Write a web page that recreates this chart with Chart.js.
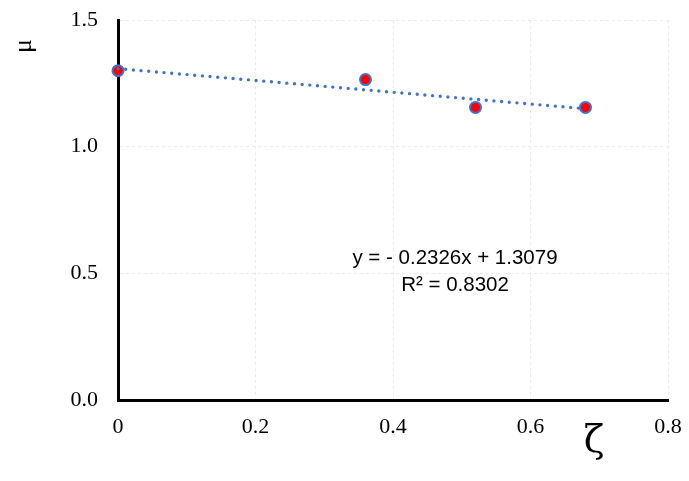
<!DOCTYPE html>
<html>
<head>
<meta charset="utf-8">
<script src="https://cdn.jsdelivr.net/npm/chart.js@4/dist/chart.umd.min.js"></script>
<style>
html,body{margin:0;padding:0;background:#fff;}
#wrap{width:689px;height:481px;position:relative;}
</style>
</head>
<body>
<div id="wrap"><canvas id="c" width="689" height="481"></canvas></div>
<script>
// Data
const zetaValues = [0, 0.36, 0.52, 0.68];
const muValues = [1.30, 1.265, 1.155, 1.155];
const trendSlope = -0.2326;
const trendIntercept = 1.3079;
const trendRange = [0, 0.68];
const xTicks = [0, 0.2, 0.4, 0.6, 0.8];
const yTicks = [0.0, 0.5, 1.0, 1.5];
const equationLines = ['y = - 0.2326x + 1.3079', 'R² = 0.8302'];
const xTitle = 'ζ';
const yTitle = 'μ';

const points = zetaValues.map((x, i) => ({x: x, y: muValues[i]}));
const trend = trendRange.map(x => ({x: x, y: trendSlope * x + trendIntercept}));

const annot = {
  id: 'annot',
  afterDraw(chart) {
    const ctx = chart.ctx;
    ctx.save();
    ctx.fillStyle = '#000';
    ctx.textAlign = 'center';
    ctx.textBaseline = 'middle';
    ctx.font = '20.5px "Liberation Sans", Arial, sans-serif';
    ctx.fillText(equationLines[0], 455, 258);
    ctx.fillText(equationLines[1], 455, 285);
    // x title
    ctx.font = '38px "DejaVu Serif", "Liberation Serif", serif';
    ctx.fillText(xTitle, 594, 442);
    // y title rotated
    ctx.translate(24, 46);
    ctx.rotate(-Math.PI / 2);
    ctx.font = '26px "Liberation Serif", "Times New Roman", serif';
    ctx.fillText(yTitle, 0, 0);
    ctx.restore();
  }
};

new Chart(document.getElementById('c'), {
  type: 'scatter',
  data: {
    datasets: [
      {
        type: 'line',
        label: 'trend',
        data: trend,
        borderColor: '#4472C4',
        borderWidth: 3.4,
        borderDash: [0, 7.7],
        borderCapStyle: 'round',
        pointRadius: 0,
        fill: false,
        clip: false,
        order: 0
      },
      {
        label: 'mu',
        data: points,
        backgroundColor: '#FF0000',
        borderColor: '#4472C4',
        borderWidth: 2,
        pointRadius: 5.5,
        clip: false,
        order: 1
      }
    ]
  },
  options: {
    responsive: false,
    animation: false,
    devicePixelRatio: 1,
    layout: {padding: {top: 20, right: 21, left: 0, bottom: 0}},
    plugins: {legend: {display: false}, tooltip: {enabled: false}},
    scales: {
      x: {
        type: 'linear',
        min: 0, max: 0.8,
        afterBuildTicks(s) { s.ticks = xTicks.map(v => ({value: v})); },
        afterFit(s) { s.height = 81; s.paddingLeft = 0; s.paddingRight = 0; },
        ticks: {
          color: '#000',
          padding: 14,
          font: {family: '"Liberation Serif", "Times New Roman", serif', size: 22},
          callback: v => (v === 0 ? '0' : String(v))
        },
        grid: {color: '#ebebeb', lineWidth: 1, drawTicks: false, tickLength: 0},
        border: {color: '#000', width: 3, dash: [3, 3]}
      },
      y: {
        type: 'linear',
        min: 0, max: 1.5,
        afterBuildTicks(s) { s.ticks = yTicks.map(v => ({value: v})); },
        afterFit(s) { s.width = 118; s.paddingTop = 0; s.paddingBottom = 0; },
        ticks: {
          color: '#000',
          padding: 20,
          font: {family: '"Liberation Serif", "Times New Roman", serif', size: 22},
          callback: v => v.toFixed(1)
        },
        grid: {color: '#ebebeb', lineWidth: 1, drawTicks: false, tickLength: 0},
        border: {color: '#000', width: 3, dash: [3, 3]}
      }
    }
  },
  plugins: [annot]
});
</script>
</body>
</html>
